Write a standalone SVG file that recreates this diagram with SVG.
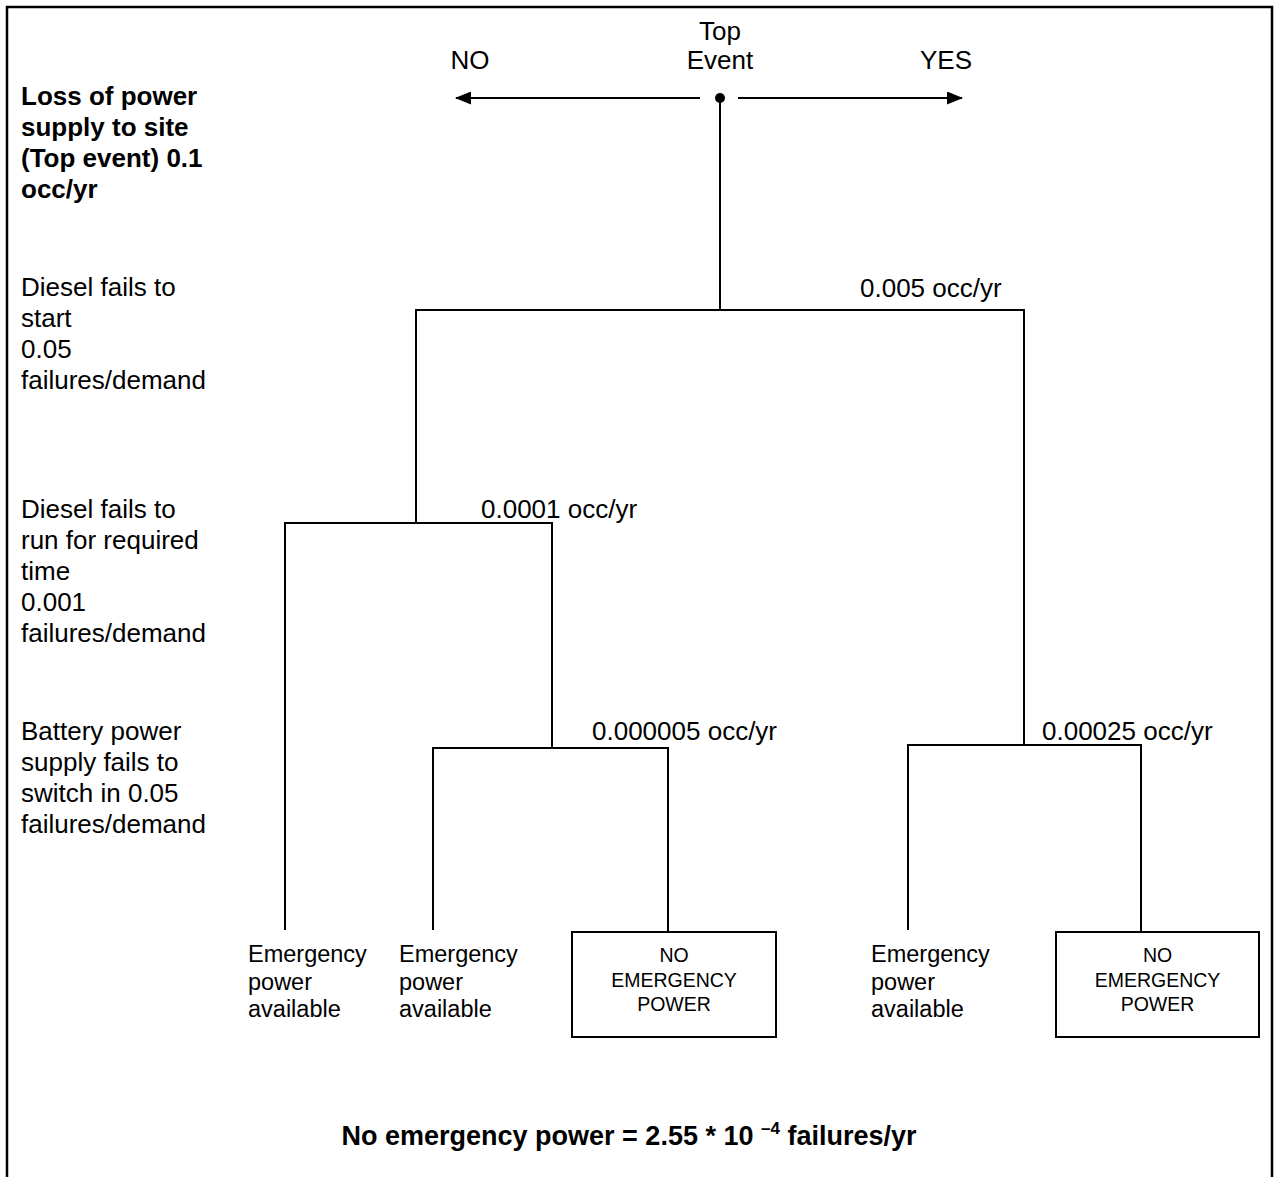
<svg xmlns="http://www.w3.org/2000/svg" width="1274" height="1177" viewBox="0 0 1274 1177">
<style>
.t{font-family:"Liberation Sans",Arial,sans-serif;font-size:26px;fill:#000}
.b{font-weight:bold}
.r{font-family:"Liberation Sans",Arial,sans-serif;font-size:27px;font-weight:bold;fill:#000;text-anchor:middle}
.e{font-family:"Liberation Sans",Arial,sans-serif;font-size:23.5px;fill:#000}
.x{font-family:"Liberation Sans",Arial,sans-serif;font-size:19.5px;fill:#000;text-anchor:middle}
.ln{stroke:#000;stroke-width:2;fill:none}
</style>
<defs>
<marker id="ah" viewBox="0 0 16 13" refX="15" refY="6.5" markerWidth="16" markerHeight="13" markerUnits="userSpaceOnUse" orient="auto">
<path d="M0,0 L16,6.5 L0,13 Z" fill="#000"/>
</marker>
</defs>
<rect x="0" y="0" width="1274" height="1177" fill="#fff"/>
<path d="M7,1177 V7 H1272 V1177" stroke="#000" stroke-width="2.5" fill="none"/>

<g id="labels">
<text class="t b"><tspan x="21" y="105">Loss of power</tspan><tspan x="21" y="136">supply to site</tspan><tspan x="21" y="167">(Top event) 0.1</tspan><tspan x="21" y="198">occ/yr</tspan></text>
<text class="t"><tspan x="21" y="296">Diesel fails to</tspan><tspan x="21" y="327">start</tspan><tspan x="21" y="358">0.05</tspan><tspan x="21" y="389">failures/demand</tspan></text>
<text class="t"><tspan x="21" y="518">Diesel fails to</tspan><tspan x="21" y="549">run for required</tspan><tspan x="21" y="580">time</tspan><tspan x="21" y="611">0.001</tspan><tspan x="21" y="642">failures/demand</tspan></text>
<text class="t"><tspan x="21" y="740">Battery power</tspan><tspan x="21" y="771">supply fails to</tspan><tspan x="21" y="802">switch in 0.05</tspan><tspan x="21" y="833">failures/demand</tspan></text>
</g>

<g id="top-event">
<text class="t" text-anchor="middle"><tspan x="720" y="40">Top</tspan><tspan x="720" y="69">Event</tspan></text>
<text class="t" x="470" y="69" text-anchor="middle">NO</text>
<text class="t" x="946" y="69" text-anchor="middle">YES</text>
<circle cx="720" cy="98" r="5" fill="#000"/>
</g>

<g id="connectors">
<line class="ln" x1="700" y1="98" x2="456" y2="98" marker-end="url(#ah)"/>
<line class="ln" x1="738" y1="98" x2="962" y2="98" marker-end="url(#ah)"/>
<path class="ln" d="M720,98 V310"/>
<path class="ln" d="M416,523 V310 H1024 V745"/>
<path class="ln" d="M285,930 V523 H552 V748"/>
<path class="ln" d="M433,930 V748 H668 V932"/>
<path class="ln" d="M908,930 V745 H1141 V932"/>
</g>

<g id="probabilities">
<text class="t" x="860" y="297">0.005 occ/yr</text>
<text class="t" x="481" y="518">0.0001 occ/yr</text>
<text class="t" x="592" y="740">0.000005 occ/yr</text>
<text class="t" x="1042" y="740">0.00025 occ/yr</text>
</g>

<g id="outcome-1">
<text class="e"><tspan x="248" y="962">Emergency</tspan><tspan x="248" y="990">power</tspan><tspan x="248" y="1017">available</tspan></text>
</g>
<g id="outcome-2">
<text class="e"><tspan x="399" y="962">Emergency</tspan><tspan x="399" y="990">power</tspan><tspan x="399" y="1017">available</tspan></text>
</g>
<g id="outcome-3">
<rect class="ln" x="572" y="932" width="204" height="105"/>
<text class="x"><tspan x="674" y="962">NO</tspan><tspan x="674" y="987">EMERGENCY</tspan><tspan x="674" y="1011">POWER</tspan></text>
</g>
<g id="outcome-4">
<text class="e"><tspan x="871" y="962">Emergency</tspan><tspan x="871" y="990">power</tspan><tspan x="871" y="1017">available</tspan></text>
</g>
<g id="outcome-5">
<rect class="ln" x="1056" y="932" width="203" height="105"/>
<text class="x"><tspan x="1157.5" y="962">NO</tspan><tspan x="1157.5" y="987">EMERGENCY</tspan><tspan x="1157.5" y="1011">POWER</tspan></text>
</g>

<g id="result">
<text class="r" x="629" y="1145">No emergency power = 2.55 * 10 <tspan style="font-size:17px" dy="-11">–4</tspan><tspan dy="11"> failures/yr</tspan></text>
</g>
</svg>
